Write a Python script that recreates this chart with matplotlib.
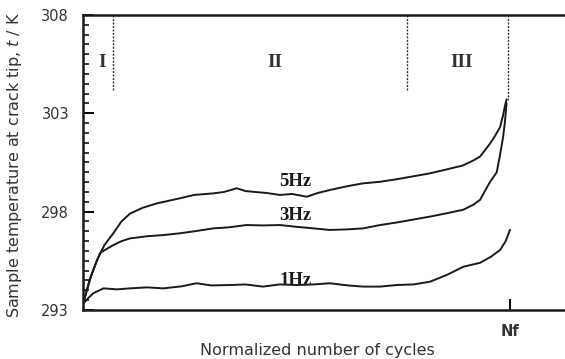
import matplotlib
matplotlib.use("Agg")
import matplotlib.pyplot as plt
from matplotlib.ticker import MultipleLocator

# Normalized cycle positions (N/Nf) and temperatures (K)
x_5hz = [0.0, 0.015, 0.032, 0.05, 0.071, 0.09, 0.11, 0.14, 0.173, 0.2, 0.227, 0.26, 0.305, 0.33,
         0.36, 0.38, 0.399, 0.43, 0.461, 0.49, 0.524, 0.55, 0.578, 0.62, 0.656, 0.696, 0.735, 0.774,
         0.813, 0.852, 0.89, 0.914, 0.93, 0.953, 0.965, 0.977, 0.984, 0.988, 0.992]
t_5hz = [293.3, 294.5, 295.5, 296.3, 296.9, 297.5, 297.9, 298.2, 298.42, 298.55, 298.68, 298.85, 298.93, 299.0,
         299.19, 299.05, 299.01, 298.95, 298.85, 298.9, 298.76, 298.95, 299.1, 299.3, 299.44, 299.52, 299.65, 299.8,
         299.95, 300.15, 300.35, 300.6, 300.8, 301.45, 301.85, 302.3, 302.9, 303.35, 303.7]

x_3hz = [0.0, 0.02, 0.04, 0.055, 0.071, 0.09, 0.11, 0.15, 0.188, 0.227, 0.26, 0.305, 0.34, 0.383, 0.42,
         0.461, 0.5, 0.54, 0.578, 0.62, 0.656, 0.696, 0.735, 0.774, 0.813, 0.852, 0.891, 0.914, 0.93,
         0.953, 0.969, 0.977, 0.984, 0.988, 0.992]
t_3hz = [293.3, 294.8, 295.9, 296.1, 296.3, 296.5, 296.64, 296.75, 296.81, 296.9, 297.0, 297.15, 297.2, 297.32, 297.3,
         297.32, 297.23, 297.15, 297.07, 297.1, 297.15, 297.32, 297.45, 297.6, 297.75, 297.92, 298.1, 298.35, 298.6,
         299.5, 300.0, 300.9, 301.8, 302.5, 303.5]

x_1hz = [0.0, 0.012, 0.024, 0.048, 0.08, 0.11, 0.15, 0.188, 0.23, 0.266, 0.3, 0.344, 0.38, 0.422, 0.46,
         0.5, 0.54, 0.578, 0.62, 0.656, 0.696, 0.735, 0.774, 0.813, 0.852, 0.891, 0.93, 0.955, 0.977, 0.99, 1.0]
t_1hz = [293.3, 293.6, 293.85, 294.1, 294.05, 294.1, 294.15, 294.1, 294.2, 294.36, 294.25, 294.27, 294.3, 294.19, 294.3,
         294.27, 294.3, 294.36, 294.25, 294.19, 294.19, 294.27, 294.3, 294.44, 294.78, 295.2, 295.4, 295.7, 296.05, 296.5, 297.07]

series_labels = ["5Hz", "3Hz", "1Hz"]
label_pos = [(0.497, 299.55), (0.497, 297.8), (0.497, 294.5)]

stage_labels = ["I", "II", "III"]
stage_label_x = [0.045, 0.45, 0.888]
stage_bounds = [0.07, 0.759, 0.995]
stage_bound_bottom = [304.2, 304.2, 303.7]

y_ticks = [293, 298, 303, 308]
x_tick_pos = [1.0]
x_tick_labels = ["Nf"]

INK = "#1a1a1a"

fig = plt.figure(figsize=(5.65, 3.59), dpi=100)
ax = fig.add_axes([83/565, 1-310/359, 1-83/565, (310-15)/359])

for xs, ts in [(x_5hz, t_5hz), (x_3hz, t_3hz), (x_1hz, t_1hz)]:
    ax.plot(xs, ts, color=INK, lw=1.4)

for (lx, ly), lab in zip(label_pos, series_labels):
    ax.text(lx, ly, lab, ha="center", va="center", family="Liberation Serif",
            fontweight="bold", fontsize=13.5, color=INK)

for bx, bb in zip(stage_bounds, stage_bound_bottom):
    ax.plot([bx, bx], [308, bb], color="#333333", lw=1.0, ls=(0, (1.5, 1)))

for sx, lab in zip(stage_label_x, stage_labels):
    ax.text(sx, 305.6, lab, ha="center", va="center", family="Liberation Serif",
            fontweight="bold", fontsize=14, color="#333333")

ax.set_xlim(0, 1.129)
ax.set_ylim(293, 308)
ax.set_yticks(y_ticks)
ax.yaxis.set_minor_locator(MultipleLocator(0.5))
ax.set_xticks(x_tick_pos)
ax.set_xticklabels(x_tick_labels)
ax.tick_params(axis="both", which="major", direction="in", length=8, width=1.4,
               labelsize=10.5, labelcolor="#333333")
ax.tick_params(axis="y", which="minor", direction="in", length=4, width=1.1)
ax.tick_params(axis="y", pad=10)
ax.tick_params(axis="x", pad=10)
for lab in ax.get_yticklabels():
    lab.set_family("DejaVu Sans")
for lab in ax.get_xticklabels():
    lab.set_family("DejaVu Sans")
    lab.set_fontweight("bold")

ax.spines["right"].set_visible(False)
for s in ["left", "top", "bottom"]:
    ax.spines[s].set_linewidth(1.8)
    ax.spines[s].set_color(INK)

fig.text(15/565, 1-165/359, "Sample temperature at crack tip, $t$ / K", rotation=90,
         ha="center", va="center", family="DejaVu Sans", fontsize=11.5, color="#333333")
fig.text(317/565, 1-350/359, "Normalized number of cycles", ha="center", va="center",
         family="DejaVu Sans", fontsize=11.5, color="#333333")

fig.savefig("out.png", dpi=100)
